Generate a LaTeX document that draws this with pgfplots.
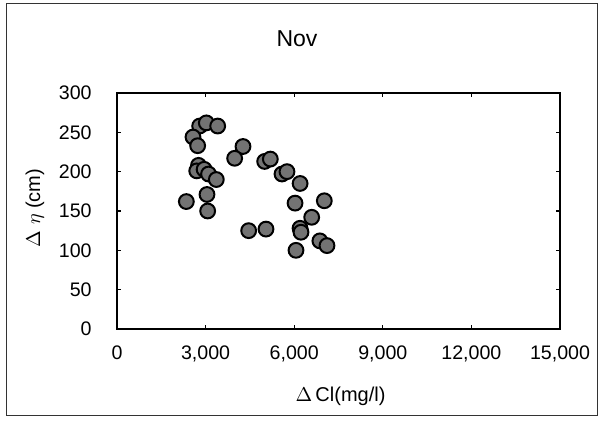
\documentclass[border=0pt]{standalone}
\usepackage{fontspec}
\setmainfont{Liberation Sans}
\usepackage{pgfplots}
\pgfplotsset{compat=1.18}
\begin{document}
\begin{tikzpicture}
\useasboundingbox (-58.5pt,-46pt) rectangle (242pt,164.5pt);
\draw[black!80, line width=0.5pt] (-55pt,-43.5pt) rectangle (240.5pt,162.5pt);
\begin{axis}[
  at={(0,0)}, anchor=south west,
  scale only axis,
  width=221.5pt, height=118pt,
  xmin=0, xmax=15000, ymin=0, ymax=300,
  scaled x ticks=false,
  xtick={0,3000,6000,9000,12000,15000},
  xticklabels={0,{3,000},{6,000},{9,000},{12,000},{15,000}},
  ytick={0,50,100,150,200,250,300},
  tick align=inside,
  major tick length=2pt,
  tick style={black, line width=0.6pt},
  axis line style={black, line width=0.9pt},
  /pgf/number format/assume math mode=true,
  tick label style={font=\fontsize{9.8pt}{11pt}\selectfont},
  xticklabel shift=5pt,
  yticklabel style={anchor=east, xshift=-12.5pt, inner xsep=0pt},
  xlabel={$\Delta$\,Cl(mg/l)},
  ylabel={$\Delta\ \eta$\ (cm)},
  label style={font=\fontsize{10pt}{12pt}\selectfont},
  xlabel style={at={(axis description cs:0.5,0)}, anchor=center, yshift=-33.5pt, xshift=1pt},
  ylabel style={at={(axis description cs:0,0.5)}, anchor=center, yshift=41pt, xshift=1.5pt},
  clip=false,
]
\addplot[only marks, mark=*, mark size=3.7pt,
  mark options={fill=black!55, draw=black, line width=1pt}]
coordinates {
(2799,258) (3025,262) (3409,258) (2573,244) (2731,233)
(4266,232) (3984,217) (5000,213) (5192,216) (5587,197) (5756,200) (6200,185)
(2760,208) (2700,201) (2950,203) (3100,197) (3363,190)
(3047,171) (2348,162) (3070,150)
(6029,160) (7020,163) (6592,142) (6198,128) (6230,123)
(4458,125) (5045,127)
(6061,100) (6870,112) (7110,106)
};
\end{axis}
\node[font=\fontsize{11.5pt}{13pt}\selectfont] at (90pt,145pt) {Nov};
\end{tikzpicture}
\end{document}
